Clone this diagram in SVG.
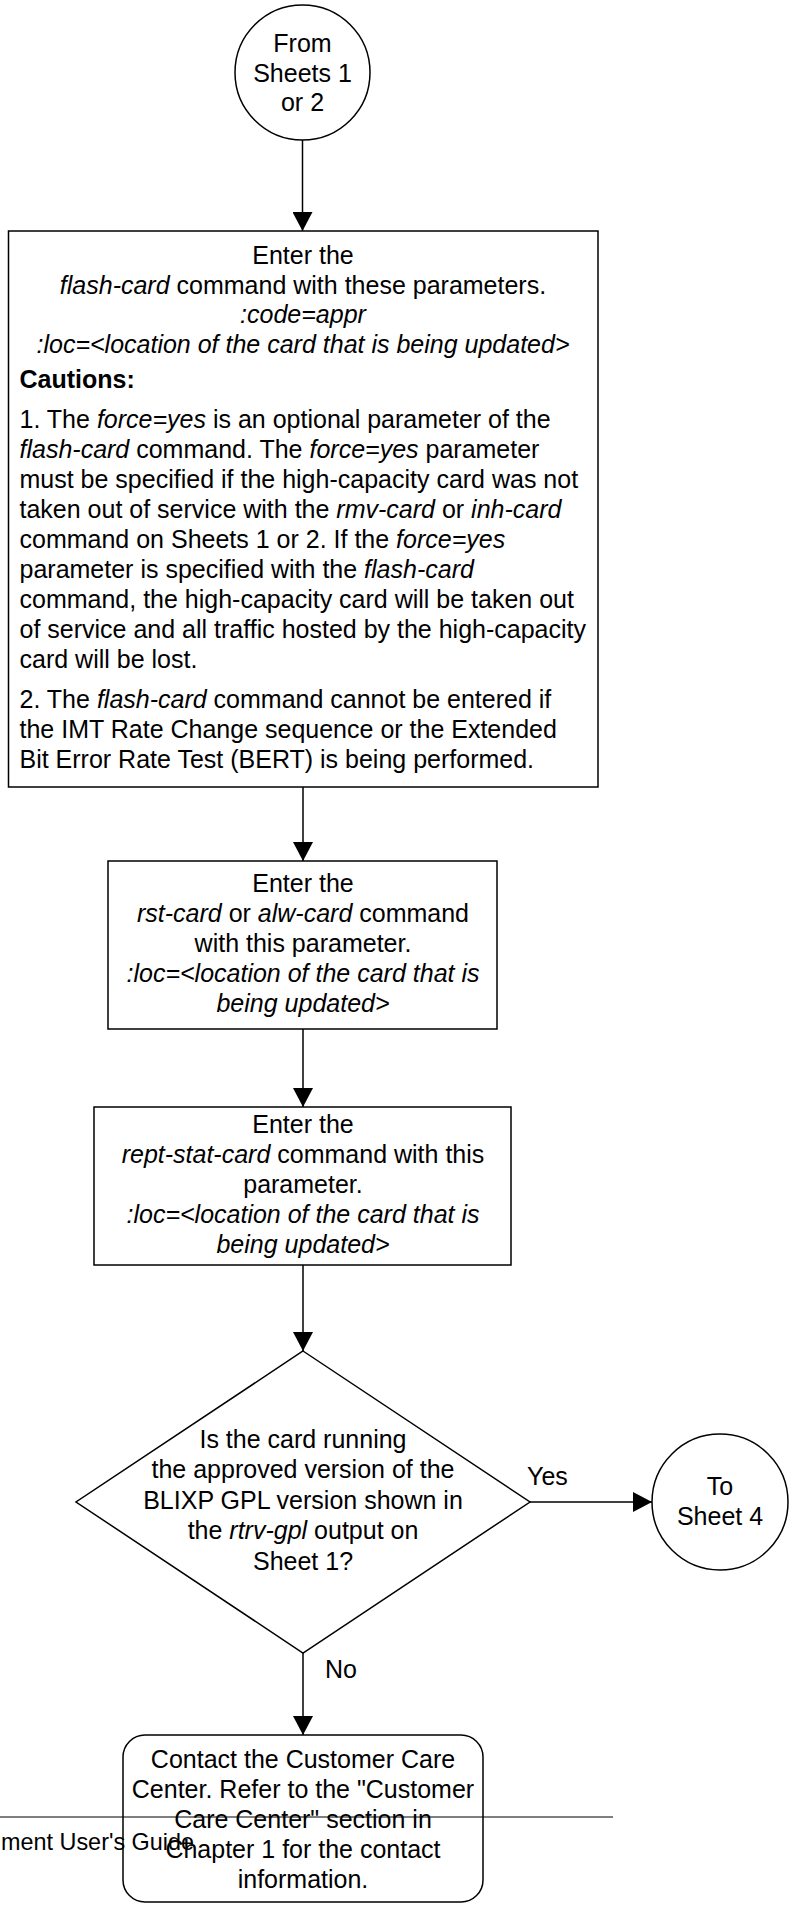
<svg xmlns="http://www.w3.org/2000/svg" width="796" height="1905" viewBox="0 0 796 1905">
<defs>
<marker id="arr" markerUnits="userSpaceOnUse" markerWidth="19" markerHeight="20" refX="19" refY="10" orient="auto">
<path d="M0,0 L19,10 L0,20 z" fill="#000"/>
</marker>
<style>
.shape{fill:#fff;stroke:#000;stroke-width:1.5}
.conn{fill:none;stroke:#000;stroke-width:1.5;marker-end:url(#arr)}
text{font-family:"Liberation Sans",Arial,sans-serif;font-size:25px;fill:#000}
.c{text-anchor:middle}
.i{font-style:italic}
.b{font-weight:bold}
</style>
</defs>
<rect width="796" height="1905" fill="#fff"/>

<g id="connectors">
<line class="conn" x1="302.5" y1="140" x2="302.5" y2="231"/>
<line class="conn" x1="303" y1="787" x2="303" y2="861"/>
<line class="conn" x1="303" y1="1029" x2="303" y2="1107"/>
<line class="conn" x1="303" y1="1265" x2="303" y2="1351"/>
<line class="conn" x1="530" y1="1502" x2="652" y2="1502"/>
<line class="conn" x1="303" y1="1653" x2="303" y2="1735"/>
<text x="527" y="1485">Yes</text>
<text x="325" y="1678">No</text>
</g>

<g id="start">
<circle class="shape" cx="302.5" cy="72.5" r="67.5"/>
<text class="c" x="302.5" y="52">From</text>
<text class="c" x="302.5" y="82">Sheets 1</text>
<text class="c" x="302.5" y="111">or 2</text>
</g>

<g id="flash">
<rect class="shape" x="8.5" y="231" width="589.5" height="556"/>
<text class="c" x="303" y="264">Enter the</text>
<text class="c" x="303" y="294"><tspan class="i">flash-card</tspan> command with these parameters.</text>
<text class="c i" x="303" y="323">:code=appr</text>
<text class="c i" x="303" y="353">:loc=&lt;location of the card that is being updated&gt;</text>
<text class="b" x="19.5" y="388">Cautions:</text>
<text x="19.5" y="428">1. The <tspan class="i">force=yes</tspan> is an optional parameter of the</text>
<text x="19.5" y="458"><tspan class="i">flash-card</tspan> command. The <tspan class="i">force=yes</tspan> parameter</text>
<text x="19.5" y="488">must be specified if the high-capacity card was not</text>
<text x="19.5" y="518">taken out of service with the <tspan class="i">rmv-card</tspan> or <tspan class="i">inh-card</tspan></text>
<text x="19.5" y="548">command on Sheets 1 or 2. If the <tspan class="i">force=yes</tspan></text>
<text x="19.5" y="578">parameter is specified with the <tspan class="i">flash-card</tspan></text>
<text x="19.5" y="608">command, the high-capacity card will be taken out</text>
<text x="19.5" y="638">of service and all traffic hosted by the high-capacity</text>
<text x="19.5" y="668">card will be lost.</text>
<text x="19.5" y="708">2. The <tspan class="i">flash-card</tspan> command cannot be entered if</text>
<text x="19.5" y="738">the IMT Rate Change sequence or the Extended</text>
<text x="19.5" y="768">Bit Error Rate Test (BERT) is being performed.</text>
</g>

<g id="rst">
<rect class="shape" x="108" y="861" width="389" height="168"/>
<text class="c" x="303" y="892">Enter the</text>
<text class="c" x="303" y="922"><tspan class="i">rst-card</tspan> or <tspan class="i">alw-card</tspan> command</text>
<text class="c" x="303" y="952">with this parameter.</text>
<text class="c i" x="303" y="982">:loc=&lt;location of the card that is</text>
<text class="c i" x="303" y="1012">being updated&gt;</text>
</g>

<g id="rept">
<rect class="shape" x="94" y="1107" width="417" height="158"/>
<text class="c" x="303" y="1133">Enter the</text>
<text class="c" x="303" y="1163"><tspan class="i">rept-stat-card</tspan> command with this</text>
<text class="c" x="303" y="1193">parameter.</text>
<text class="c i" x="303" y="1223">:loc=&lt;location of the card that is</text>
<text class="c i" x="303" y="1253">being updated&gt;</text>
</g>

<g id="decision">
<polygon class="shape" points="303,1351 530,1502 303,1653 76,1502"/>
<text class="c" x="303" y="1448">Is the card running</text>
<text class="c" x="303" y="1478">the approved version of the</text>
<text class="c" x="303" y="1509">BLIXP GPL version shown in</text>
<text class="c" x="303" y="1539">the <tspan class="i">rtrv-gpl</tspan> output on</text>
<text class="c" x="303" y="1570">Sheet 1?</text>
</g>

<g id="sheet4">
<circle class="shape" cx="720" cy="1502" r="68"/>
<text class="c" x="720" y="1495">To</text>
<text class="c" x="720" y="1525">Sheet 4</text>
</g>

<g id="contact">
<rect class="shape" x="123" y="1735" width="360" height="167" rx="22" ry="22"/>
<text class="c" x="303" y="1768">Contact the Customer Care</text>
<text class="c" x="303" y="1798">Center. Refer to the "Customer</text>
<text class="c" x="303" y="1828">Care Center" section in</text>
<text class="c" x="303" y="1858">Chapter 1 for the contact</text>
<text class="c" x="303" y="1888">information.</text>
</g>

<g id="footer">
<line x1="0" y1="1817" x2="613" y2="1817" stroke="#000" stroke-width="1.2"/>
<text x="194" y="1850" style="text-anchor:end;font-size:23.4px">ment User's Guide</text>
</g>
</svg>
